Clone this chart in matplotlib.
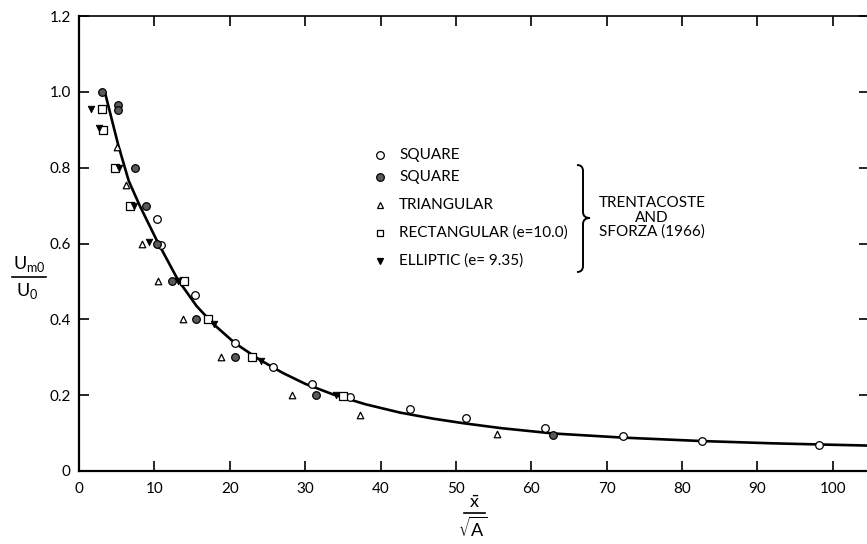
import matplotlib
matplotlib.use("Agg")
import matplotlib.pyplot as plt
from matplotlib.lines import Line2D
from matplotlib.path import Path
from matplotlib.patches import PathPatch

plt.rcParams['font.family'] = ['Lato', 'DejaVu Sans']

# ---- data ----
open_sq_x = [10.4, 10.9, 15.4, 20.7, 25.7, 30.9, 36.0, 43.9, 51.4, 61.8, 72.2, 82.6, 98.2]
open_sq_y = [0.665, 0.595, 0.463, 0.338, 0.273, 0.230, 0.194, 0.164, 0.139, 0.113, 0.092, 0.080, 0.069]

filled_sq_x = [3.0, 5.2, 5.2, 7.4, 8.9, 10.4, 12.4, 15.5, 20.7, 31.4, 62.9]
filled_sq_y = [1.00, 0.965, 0.952, 0.80, 0.70, 0.60, 0.50, 0.40, 0.30, 0.20, 0.095]

tri_x = [5.0, 6.2, 8.3, 10.5, 13.8, 18.8, 28.3, 37.3, 55.5]
tri_y = [0.855, 0.755, 0.60, 0.50, 0.40, 0.30, 0.20, 0.148, 0.097]

rect_x = [3.0, 3.2, 4.8, 6.8, 13.9, 17.1, 22.9, 35.0]
rect_y = [0.955, 0.90, 0.80, 0.70, 0.50, 0.40, 0.30, 0.198]

ell_x = [1.6, 2.7, 5.35, 7.3, 9.3, 13.1, 17.9, 24.2, 34.1]
ell_y = [0.955, 0.905, 0.80, 0.70, 0.605, 0.50, 0.388, 0.29, 0.20]

curve_x = [3.5, 5.2, 6.6, 8.1, 10.4, 13.1, 15.6, 17.8, 20.7, 24.0, 27.0, 30.0,
           33.7, 38.0, 42.6, 47.0, 51.0, 56.0, 62.9, 72.2, 82.6, 92.0, 98.2, 104.8]
curve_y = [0.994, 0.860, 0.765, 0.698, 0.605, 0.505, 0.435, 0.388, 0.337, 0.293,
           0.259, 0.230, 0.202, 0.176, 0.154, 0.138, 0.126, 0.113, 0.099, 0.088,
           0.079, 0.073, 0.070, 0.067]

xticks = [0, 10, 20, 30, 40, 50, 60, 70, 80, 90, 100]
yticks = [0, 0.2, 0.4, 0.6, 0.8, 1.0, 1.2]
ytick_labels = ['0', '0.2', '0.4', '0.6', '0.8', '1.0', '1.2']

legend_labels = ['SQUARE', 'SQUARE', 'TRIANGULAR', 'RECTANGULAR (e=10.0)', 'ELLIPTIC (e= 9.35)']
source_label = ['TRENTACOSTE', 'AND', 'SFORZA (1966)']

# ---- figure ----
W, H = 867, 544
fig = plt.figure(figsize=(W / 100, H / 100), dpi=100)
L, R, T, B = 79, 869, 16, 471
ax = fig.add_axes([L / W, 1 - B / H, (R - L) / W, (B - T) / H])
ax.set_xlim(0, 104.8)
ax.set_ylim(0, 1.2)

ax.plot(curve_x, curve_y, color='black', lw=1.9, zorder=2)

ms = 30
ax.scatter(open_sq_x, open_sq_y, s=ms, marker='o', facecolor='white', edgecolor='black', lw=0.9, zorder=3)
ax.scatter(filled_sq_x, filled_sq_y, s=ms, marker='o', facecolor='#5a5a5a', edgecolor='black', lw=0.9, zorder=3)
ax.scatter(tri_x, tri_y, s=22, marker='^', facecolor='white', edgecolor='black', lw=0.9, zorder=3)
ax.scatter(rect_x, rect_y, s=26, marker='s', facecolor='white', edgecolor='black', lw=0.9, zorder=3)
ax.scatter(ell_x, ell_y, s=22, marker='v', facecolor='black', edgecolor='black', lw=0.6, zorder=3)

ax.set_xticks(xticks)
ax.set_xticklabels([str(v) for v in xticks])
ax.set_yticks(yticks)
ax.set_yticklabels(ytick_labels)
ax.tick_params(direction='in', length=7, width=1.2, labelsize=11,
               top=True, right=True, colors='black')
ax.tick_params(axis='x', pad=8)
ax.tick_params(axis='y', pad=6)
for side in ['left', 'bottom']:
    ax.spines[side].set_linewidth(1.6)
ax.spines['top'].set_linewidth(1.2)
ax.spines['right'].set_linewidth(1.2)

# legend (manual, in pixel coords -> figure fraction)
def fx(px):
    return px / W

def fy(py):
    return 1 - py / H

mk_x = 380
rows_y = [155, 177, 205, 233, 261]
styles = [dict(marker='o', mfc='white', mec='black', ms=5.5),
          dict(marker='o', mfc='#5a5a5a', mec='black', ms=5.5),
          dict(marker='^', mfc='white', mec='black', ms=4.8),
          dict(marker='s', mfc='white', mec='black', ms=4.8),
          dict(marker='v', mfc='black', mec='black', ms=4.8)]
for lab, yy, st in zip(legend_labels, rows_y, styles):
    fig.add_artist(Line2D([fx(mk_x)], [fy(yy)], linestyle='none', mew=0.9,
                          transform=fig.transFigure, **st))
    fig.text(fx(399), fy(yy), lab, fontsize=11, va='center', ha='left')

# brace drawn as a path (pixel coords converted to figure fraction)
bx0, bx1, btip = 577, 583, 590
by0, bmid, by1 = 165, 218, 272
brace_pts = [
    (bx0, by0), (bx1, by0), (bx1, by0 + 6),
    (bx1, bmid - 6),
    (bx1, bmid), (btip, bmid),
    (bx1, bmid), (bx1, bmid + 6),
    (bx1, by1 - 6),
    (bx1, by1), (bx0, by1),
]
codes = [Path.MOVETO, Path.CURVE3, Path.CURVE3,
         Path.LINETO,
         Path.CURVE3, Path.CURVE3,
         Path.CURVE3, Path.CURVE3,
         Path.LINETO,
         Path.CURVE3, Path.CURVE3]
brace = Path([(fx(px), fy(py)) for px, py in brace_pts], codes)
fig.add_artist(PathPatch(brace, facecolor='none', edgecolor='black', lw=1.4,
                         transform=fig.transFigure))

for lab, yy in zip(source_label, [203, 218, 232]):
    fig.text(fx(652), fy(yy), lab, fontsize=11, va='center', ha='center',
             linespacing=1.0)

# y label as a stacked fraction
fig.text(fx(29), fy(264), r'U$_{\mathregular{m0}}$', fontsize=13, ha='center', va='center')
fig.add_artist(Line2D([fx(12), fx(46)], [fy(277), fy(277)], color='black', lw=1.2,
                      transform=fig.transFigure))
fig.text(fx(27), fy(291), r'U$_{\mathregular{0}}$', fontsize=13, ha='center', va='center')

# x label as a stacked fraction
fig.text(fx(474), fy(503), r'$\bar{\mathregular{x}}$', fontsize=13, ha='center', va='center')
fig.add_artist(Line2D([fx(464), fx(485)], [fy(513), fy(513)], color='black', lw=1.2,
                      transform=fig.transFigure))
fig.text(fx(473), fy(528), r'$\sqrt{\mathregular{A}}$', fontsize=13, ha='center', va='center')

fig.savefig('out.png', dpi=100, facecolor='white')
